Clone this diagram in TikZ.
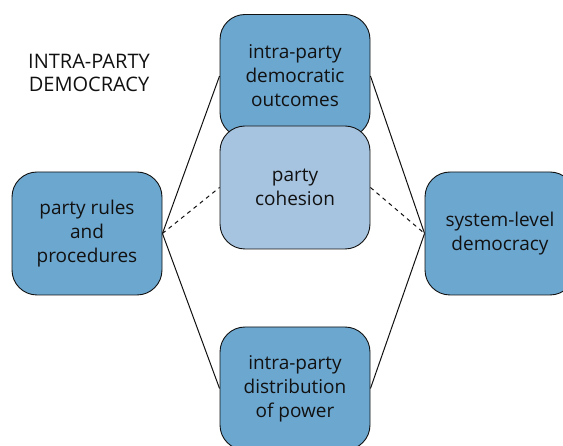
\documentclass[tikz,border=0pt]{standalone}
\usepackage{fontspec}
\setmainfont{Open Sans}
\definecolor{boxdark}{HTML}{6CA7D0}
\definecolor{boxlight}{HTML}{A6C4E0}
\definecolor{ink}{HTML}{111111}
\begin{document}
\begin{tikzpicture}[x=1pt,y=-1pt,
  box/.style={draw=ink, line width=0.9pt, rounded corners=25pt,
    minimum width=150pt, minimum height=123pt, align=center,
    font=\fontsize{19}{24}\selectfont, inner sep=0pt, text=ink},
  dark/.style={box, fill=boxdark},
  light/.style={box, fill=boxlight},
  link/.style={draw=ink, line width=1pt},
  weaklink/.style={link, dash pattern=on 4pt off 4pt}]
\useasboundingbox (0,0) rectangle (563,446);

% heading
\node[align=center, font=\fontsize{20}{23}\selectfont, text=ink] (title) at (89,73) {INTRA-PARTY\\DEMOCRACY};

% boxes
\node[dark] (rules) at (87,233.5) {party rules\\and\\procedures};
\node[dark] (outc) at (295,76) {intra-party\\democratic\\outcomes};
\node[light] (coh) at (295,187.5) {party\\cohesion};
\node[dark] (power) at (295,388.5) {intra-party\\distribution\\of power};
\node[dark] (sys) at (500,233.5) {system-level\\democracy};

% connectors
\draw[link] (rules.east) -- (outc.west);
\draw[link] (rules.east) -- (power.west);
\draw[link] (outc.east) -- (sys.west);
\draw[link] (power.east) -- (sys.west);
\draw[weaklink] (rules.east) -- (coh.west);
\draw[weaklink] (coh.east) -- (sys.west);
\end{tikzpicture}
\end{document}
